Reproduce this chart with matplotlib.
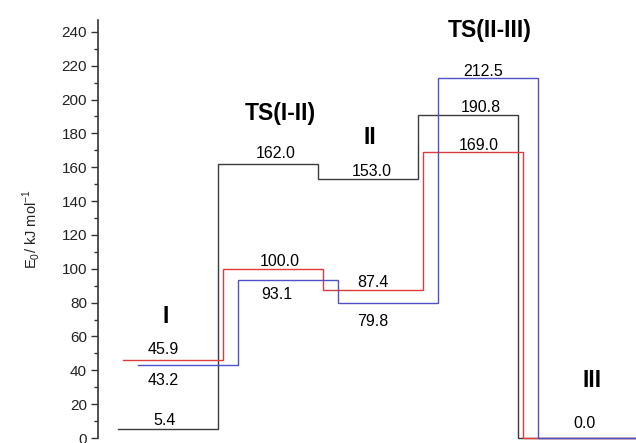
import numpy as np
import matplotlib
matplotlib.use("Agg")
import matplotlib.pyplot as plt
from matplotlib.ticker import MultipleLocator

plt.rcParams['font.family'] = ['Liberation Sans', 'DejaVu Sans']
plt.rcParams['mathtext.fontset'] = 'custom'
plt.rcParams['mathtext.rm'] = 'Liberation Sans'

# ---- data ----
stages = ['I', 'TS(I-II)', 'II', 'TS(II-III)', 'III']
black_vals = [5.4, 162.0, 153.0, 190.8, 0.0]
red_vals = [45.9, 100.0, 87.4, 169.0, 0.0]
blue_vals = [43.2, 93.1, 79.8, 212.5, 0.0]
yticks = list(range(0, 241, 20))

# ---- layout / style ----
series = [
    (black_vals, 0.00, '#3a3a3a'),
    (red_vals, 0.05, '#dc3c3c'),
    (blue_vals, 0.20, '#5050c8'),
]
# (series index, level, x center, side, pixel gap line->baseline)
value_labels = [
    (0, 0, 0.47, 'above', 4), (1, 0, 0.45, 'above', 6), (2, 0, 0.45, 'below', 20),
    (0, 1, 1.58, 'above', 6), (1, 1, 1.62, 'above', 3), (2, 1, 1.59, 'below', 19),
    (0, 2, 2.54, 'above', 3), (1, 2, 2.55, 'above', 3), (2, 2, 2.55, 'below', 23),
    (0, 3, 3.63, 'above', 3), (1, 3, 3.61, 'above', 2), (2, 3, 3.65, 'above', 2),
    (2, 4, 4.67, 'above', 10),
]
stage_pos = [(0.48, 72), (1.62, 192), (2.52, 177.5), (3.72, 241), (4.74, 34)]

W, H = 636, 443
fig = plt.figure(figsize=(W / 100, H / 100), dpi=100)
ax = fig.add_axes([98 / W, 5 / H, (W - 98) / W, (438 - 20) / H])

for vals, off, col in series:
    n = len(vals)
    lev = np.arange(n)
    xs = np.empty(2 * n)
    xs[0::2] = lev + off
    xs[1::2] = lev + 1 + off
    xs[-1] = n + 1  # last level runs off the right edge
    ys = np.repeat(vals, 2)
    ax.plot(xs, ys, color=col, lw=1.0, clip_on=False, solid_joinstyle='miter')

vals_by_series = [s[0] for s in series]
for si, lv, xc, side, gap in value_labels:
    v = vals_by_series[si][lv]
    dy = gap * 0.72 if side == 'above' else -gap * 0.72
    ax.annotate(f"{v:.1f}", (xc, v), xytext=(0, dy), textcoords='offset points',
                ha='center', va='baseline', fontsize=11.5, color='black',
                annotation_clip=False)

for name, (xc, yc) in zip(stages, stage_pos):
    ax.text(xc, yc, name, ha='center', va='center', fontsize=16.5,
            fontweight='bold', color='black', clip_on=False)

ax.set_xlim(-0.2, 5.18)
ax.set_ylim(0, 247)
ax.set_yticks(yticks)
ax.yaxis.set_minor_locator(MultipleLocator(10))
ax.set_xticks([])
for s in ['top', 'right', 'bottom']:
    ax.spines[s].set_visible(False)
ax.spines['left'].set_color('#333333')
ax.spines['left'].set_linewidth(1.2)
ax.tick_params(axis='y', which='major', length=5, width=1.0, color='#333333',
               labelsize=11, labelcolor='#222222', pad=3)
ax.tick_params(axis='y', which='minor', length=3, width=1.0, color='#333333')
ax.set_ylabel(r'E$_\mathregular{0}$/ kJ mol$^\mathregular{-1}$', fontsize=10.5,
              color='#222222', labelpad=14)

fig.savefig('out.png', dpi=100)
